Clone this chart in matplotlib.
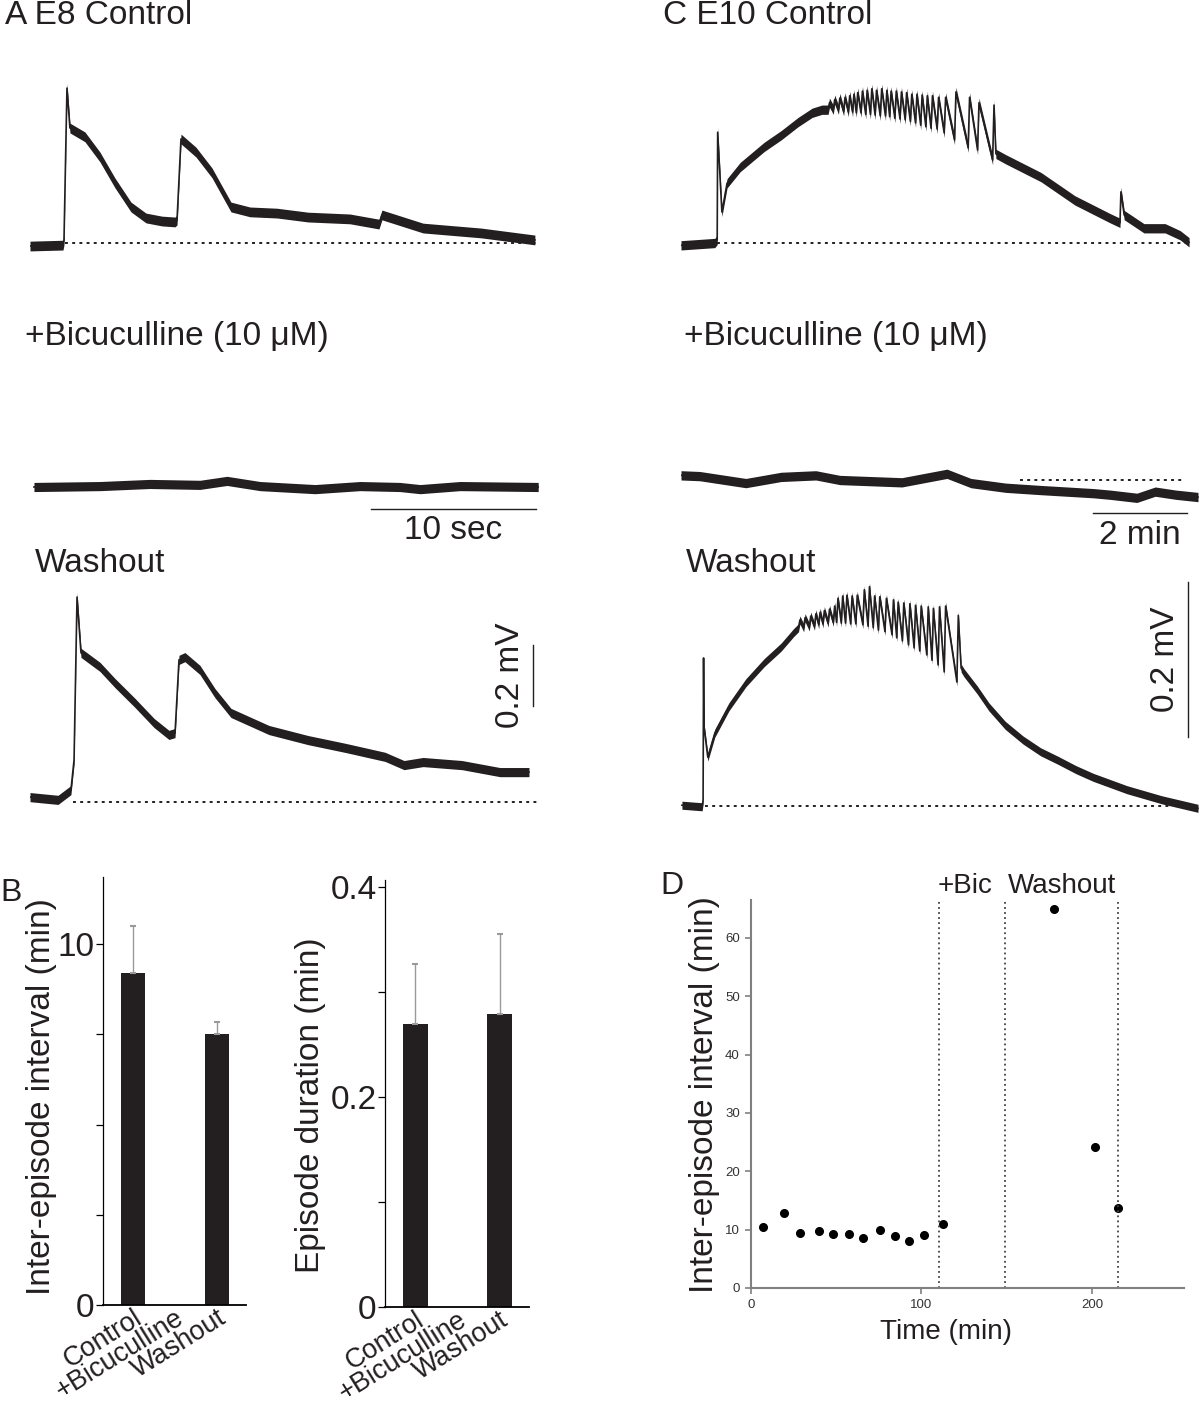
import numpy as np
import matplotlib
matplotlib.use('Agg')
import matplotlib.pyplot as plt

plt.rcParams['font.family'] = ['Liberation Sans', 'DejaVu Sans']

INK = '#231f20'
W, H = 1200, 1411

# ---- panel A traces (time in s, voltage in mV relative to baseline) ----
a_ctrl_t = [0, 2.0, 2.06, 2.24, 2.42, 3.33, 4.24, 5.15, 6.12, 7.03, 8.0, 8.79, 8.91, 9.15,
            10.06, 11.03, 12.18, 13.33, 14.97, 16.85, 19.39, 21.15, 21.33, 23.82, 27.33, 30.6]
a_ctrl_v = [-0.010, -0.007, 0.01, 0.508, 0.377, 0.348, 0.282, 0.197, 0.118, 0.082, 0.072, 0.069,
            0.075, 0.341, 0.298, 0.230, 0.118, 0.102, 0.098, 0.085, 0.079, 0.062, 0.092, 0.049,
            0.033, 0.010]

a_bic_t = [0.24, 4.24, 7.27, 10.3, 11.94, 13.94, 17.27, 20.0, 22.42, 23.64, 26.06, 30.8]
a_bic_v = [0.0, 0.003, 0.010, 0.007, 0.020, 0.003, -0.007, 0.003, 0.0, -0.007, 0.003, 0.0]

a_wash_t = [0, 1.7, 2.48, 2.67, 2.85, 3.09, 4.24, 5.15, 6.36, 7.52, 8.42, 8.79, 9.03, 9.39,
            10.30, 11.21, 12.18, 14.48, 16.85, 19.15, 21.52, 22.67, 23.82, 26.18, 28.48, 30.24]
a_wash_v = [0.016, 0.007, 0.039, 0.138, 0.672, 0.489, 0.443, 0.390, 0.325, 0.259, 0.220, 0.226,
            0.466, 0.475, 0.433, 0.357, 0.292, 0.236, 0.203, 0.177, 0.148, 0.121, 0.131, 0.121,
            0.098, 0.098]

# ---- panel C traces (time in min, voltage in mV) ----
c_ctrl_head_t = [0, 0.72, 0.77, 0.78, 0.87, 0.98, 1.26, 1.77, 2.13, 2.49, 2.79, 3.0]
c_ctrl_head_v = [-0.003, 0.0, 0.004, 0.143, 0.040, 0.077, 0.098, 0.124, 0.139, 0.156, 0.168, 0.172]
c_ctrl_pk_t = [3.16, 3.27, 3.38, 3.49, 3.59, 3.68, 3.76, 3.86, 3.96, 4.06, 4.16, 4.27, 4.38, 4.47,
               4.58, 4.69, 4.80, 4.91, 5.02, 5.13, 5.24, 5.35, 5.48, 5.63, 5.85, 6.14, 6.34, 6.66]
c_ctrl_pk_v = [0.181, 0.185, 0.187, 0.188, 0.190, 0.192, 0.194, 0.196, 0.197, 0.199, 0.197, 0.199,
               0.197, 0.196, 0.196, 0.195, 0.194, 0.192, 0.192, 0.191, 0.190, 0.190, 0.188, 0.188,
               0.195, 0.188, 0.181, 0.178]
c_ctrl_tr_t = [3.13, 3.24, 3.35, 3.46, 3.56, 3.65, 3.73, 3.83, 3.93, 4.03, 4.13, 4.24, 4.35, 4.44,
               4.55, 4.66, 4.77, 4.88, 4.99, 5.10, 5.21, 5.32, 5.45, 5.60, 5.82, 6.11, 6.31, 6.63]
c_ctrl_tr_v = [0.172, 0.172, 0.172, 0.170, 0.169, 0.169, 0.168, 0.168, 0.166, 0.166, 0.165, 0.164,
               0.164, 0.163, 0.161, 0.160, 0.159, 0.157, 0.155, 0.152, 0.150, 0.148, 0.147, 0.142,
               0.133, 0.123, 0.120, 0.107]
c_ctrl_tail_t = [6.70, 6.91, 7.66, 8.38, 9.13, 9.34, 9.36, 9.43, 9.85, 10.30, 10.62, 10.81]
c_ctrl_tail_v = [0.115, 0.108, 0.085, 0.055, 0.032, 0.026, 0.066, 0.036, 0.019, 0.019, 0.010, 0.001]

c_bic_t = [0, 0.40, 1.38, 2.13, 2.87, 3.38, 4.70, 5.66, 6.17, 6.91, 7.66, 8.77, 9.13, 9.70,
           10.09, 10.53, 11.0]
c_bic_v = [0.006, 0.005, -0.004, 0.004, 0.006, 0.0, -0.003, 0.008, -0.004, -0.010, -0.013,
           -0.017, -0.019, -0.023, -0.015, -0.019, -0.022]

c_wash_head_t = [0.02, 0.45, 0.47, 0.48, 0.49, 0.57, 0.72, 1.02, 1.38, 1.77, 2.13, 2.40]
c_wash_head_v = [0.001, -0.001, 0.008, 0.191, 0.102, 0.063, 0.094, 0.128, 0.159, 0.185, 0.205, 0.224]
c_wash_pk_t = [2.53, 2.64, 2.76, 2.87, 2.96, 3.05, 3.16, 3.27, 3.34, 3.44, 3.53, 3.64, 3.75, 3.90,
               4.01, 4.12, 4.23, 4.37, 4.52, 4.62, 4.74, 4.87, 4.99, 5.11, 5.26, 5.37, 5.50, 5.63,
               5.90]
c_wash_pk_v = [0.240, 0.243, 0.245, 0.248, 0.250, 0.252, 0.254, 0.258, 0.268, 0.271, 0.272, 0.271,
               0.272, 0.279, 0.283, 0.271, 0.270, 0.268, 0.266, 0.263, 0.262, 0.261, 0.259, 0.258,
               0.257, 0.255, 0.257, 0.258, 0.246]
c_wash_tr_t = [2.50, 2.61, 2.73, 2.84, 2.93, 3.02, 3.13, 3.24, 3.31, 3.41, 3.50, 3.61, 3.72, 3.87,
               3.98, 4.09, 4.20, 4.34, 4.49, 4.59, 4.71, 4.84, 4.96, 5.08, 5.23, 5.34, 5.47, 5.60,
               5.87]
c_wash_tr_v = [0.230, 0.230, 0.231, 0.232, 0.234, 0.235, 0.236, 0.237, 0.237, 0.236, 0.236, 0.235,
               0.235, 0.234, 0.232, 0.230, 0.227, 0.225, 0.221, 0.217, 0.213, 0.208, 0.204, 0.200,
               0.195, 0.188, 0.182, 0.173, 0.160]
c_wash_tail_t = [5.96, 6.02, 6.30, 6.55, 6.90, 7.28, 7.65, 8.02, 8.40, 8.77, 9.49, 10.23, 11.0]
c_wash_tail_v = [0.178, 0.172, 0.150, 0.128, 0.104, 0.085, 0.070, 0.059, 0.047, 0.037, 0.021,
                 0.008, -0.003]

# ---- panel B bars ----
conditions = ['Control', '+Bicuculline', 'Washout']
iei_mean = [9.2, np.nan, 7.5]
iei_err = [1.3, np.nan, 0.35]
dur_mean = [0.270, np.nan, 0.279]
dur_err = [0.057, np.nan, 0.077]

# ---- panel D scatter ----
d_time = [6.9, 19.5, 29.0, 39.8, 48.1, 57.4, 65.9, 75.5, 84.4, 92.5, 101.4, 112.6, 177.5, 202.0, 215.2]
d_iei = [10.4, 12.8, 9.4, 9.7, 9.3, 9.2, 8.6, 9.9, 8.9, 8.1, 9.0, 10.9, 64.9, 24.2, 13.7]
d_marks = [110.3, 149.1, 215.2]

fig = plt.figure(figsize=(12, 14.11), dpi=100)


def box(x0, y0, x1, y1):
    return [x0 / W, 1 - y1 / H, (x1 - x0) / W, (y1 - y0) / H]


def ftext(x, y, s, **kw):
    kw.setdefault('color', INK)
    fig.text(x / W, 1 - y / H, s, **kw)


def interleave(head_t, head_v, tr_t, tr_v, pk_t, pk_v, tail_t, tail_v):
    t = list(head_t) + list(np.ravel(np.column_stack([tr_t, pk_t]))) + list(tail_t)
    v = list(head_v) + list(np.ravel(np.column_stack([tr_v, pk_v]))) + list(tail_v)
    return t, v


def trace_ax(rect, xlim, ylim, t, v, band, base=None):
    # recording noise shown as a band of fixed vertical thickness around the trace
    ax = fig.add_axes(rect)
    t = np.asarray(t)
    v = np.asarray(v)
    ax.fill_between(t, v - band, v + band, color=INK, lw=0)
    ax.plot(t, v, color=INK, lw=1.2)
    if base is not None:
        ax.plot(base, [0, 0], color=INK, lw=1.4, ls=(0, (1.5, 2.2)))
    ax.set_xlim(xlim)
    ax.set_ylim(ylim)
    ax.axis('off')
    return ax


# A: 16.5 px per s, 305 px per mV
a_x = 510 / 16.5
trace_ax(box(30, 60, 540, 260), (0, a_x), (-17 / 305, 183 / 305), a_ctrl_t, a_ctrl_v, 0.016,
         base=[2.1, 30.7])
ax_abic = trace_ax(box(30, 450, 540, 520), (0, a_x), (-33 / 305, 37 / 305), a_bic_t, a_bic_v, 0.015)
ax_abic.plot([20.67, 30.67], [-0.072, -0.072], color=INK, lw=1, clip_on=False)
ax_abic.text(25.67, -0.141, '10 sec', ha='center', va='center', fontsize=24, color=INK)
ax_awash = trace_ax(box(30, 560, 540, 830), (0, a_x), (-28 / 305, 242 / 305), a_wash_t, a_wash_v,
                    0.015, base=[2.6, 30.7])
ax_awash.plot([30.48, 30.48], [0.315, 0.515], color=INK, lw=1)
ax_awash.text(29.1, 0.415, '0.2 mV', rotation=90, ha='center', va='center', fontsize=24, color=INK)

# C: 47 px per min, 775 px per mV
c_x = 519 / 47
t, v = interleave(c_ctrl_head_t, c_ctrl_head_v, c_ctrl_tr_t, c_ctrl_tr_v,
                  c_ctrl_pk_t, c_ctrl_pk_v, c_ctrl_tail_t, c_ctrl_tail_v)
trace_ax(box(681, 60, 1200, 260), (0, c_x), (-17 / 775, 183 / 775), t, v, 0.006,
         base=[0.77, 10.74])
ax_cbic = trace_ax(box(681, 440, 1200, 520), (0, c_x), (-40 / 775, 40 / 775), c_bic_t, c_bic_v,
                   0.006, base=[7.21, 10.72])
ax_cbic.plot([8.77, 10.77], [-0.0426, -0.0426], color=INK, lw=1)
ax_cbic.text(9.77, -0.071, '2 min', ha='center', va='center', fontsize=24, color=INK)
t, v = interleave(c_wash_head_t, c_wash_head_v, c_wash_tr_t, c_wash_tr_v,
                  c_wash_pk_t, c_wash_pk_v, c_wash_tail_t, c_wash_tail_v)
ax_cwash = trace_ax(box(681, 560, 1200, 830), (0, c_x), (-24 / 775, 246 / 775), t, v, 0.0052,
                    base=[0.51, 10.4])
ax_cwash.plot([10.79, 10.79], [0.089, 0.289], color=INK, lw=1)
ax_cwash.text(10.30, 0.19, '0.2 mV', rotation=90, ha='center', va='center', fontsize=24, color=INK)

# panel titles
ftext(5, 16, 'A E8 Control', fontsize=24, va='center')
ftext(663, 16, 'C E10 Control', fontsize=24, va='center')
ftext(25, 337, '+Bicuculline (10 μM)', fontsize=24, va='center')
ftext(684, 337, '+Bicuculline (10 μM)', fontsize=24, va='center')
ftext(35, 564, 'Washout', fontsize=24, va='center')
ftext(686, 564, 'Washout', fontsize=24, va='center')

# B: bar charts
pos = np.arange(len(conditions))


def bar_ax(rect, ylim, mean, err, yticks, ylabels):
    ax = fig.add_axes(rect)
    ax.bar(pos, mean, width=0.58, color=INK)
    ax.errorbar(pos, mean, yerr=[np.zeros(len(err)), err], fmt='none', ecolor='#9a9a9a',
                elinewidth=1, capsize=2, capthick=1.5)
    ax.set_xlim(-0.72, 2.70)
    ax.set_ylim(ylim)
    for s in ['top', 'right']:
        ax.spines[s].set_visible(False)
    ax.spines['left'].set_linewidth(0.9)
    ax.spines['bottom'].set_linewidth(1.3)
    ax.set_yticks(yticks)
    ax.set_yticklabels(ylabels)
    ax.tick_params(axis='y', direction='out', length=5, width=0.9, labelsize=24, pad=1,
                   labelcolor=INK)
    ax.set_xticks(pos)
    ax.set_xticklabels(conditions, rotation=32, ha='right', rotation_mode='anchor', fontsize=19.5,
                       color=INK)
    ax.tick_params(axis='x', length=0, pad=0)
    return ax


bar_ax(box(103, 877, 246, 1305), (0, 11.86), iei_mean, iei_err,
       [0, 2.5, 5, 7.5, 10], ['0', '', '', '', '10'])
bar_ax(box(385, 880, 529, 1307), (0, 0.407), dur_mean, dur_err,
       [0, 0.1, 0.2, 0.3, 0.4], ['0', '', '0.2', '', '0.4'])
ftext(42, 1097, 'Inter-episode interval (min)', fontsize=24, rotation=90, ha='center', va='center')
ftext(311, 1105, 'Episode duration (min)', fontsize=24, rotation=90, ha='center', va='center')
ftext(0, 893, 'B', fontsize=23, va='center')

# D: scatter
axd = fig.add_axes(box(751, 900, 1184, 1288))
axd.plot(d_time, d_iei, 'o', color='black', ms=5.5)
for xm in d_marks:
    axd.plot([xm, xm], [0, 66.5], color='#444444', lw=1.3, ls=(0, (1, 1.8)))
axd.set_xlim(0, 254)
axd.set_ylim(0, 66.5)
for s in ['top', 'right']:
    axd.spines[s].set_visible(False)
for s in ['left', 'bottom']:
    axd.spines[s].set_color('#808080')
    axd.spines[s].set_linewidth(1.5)
axd.set_xticks([0, 100, 200])
axd.set_yticks(np.arange(0, 61, 10))
axd.tick_params(direction='out', length=4, width=1.2, color='#808080', labelsize=9.5,
                labelcolor='#333333', pad=4)
ftext(705, 1095, 'Inter-episode interval (min)', fontsize=24, rotation=90, ha='center', va='center')
ftext(946, 1332, 'Time (min)', fontsize=20, ha='center', va='center')
ftext(660, 886, 'D', fontsize=23, va='center')
ftext(938, 886, '+Bic', fontsize=20, va='center')
ftext(1008, 886, 'Washout', fontsize=20, va='center')

fig.savefig('out.png', dpi=100)
